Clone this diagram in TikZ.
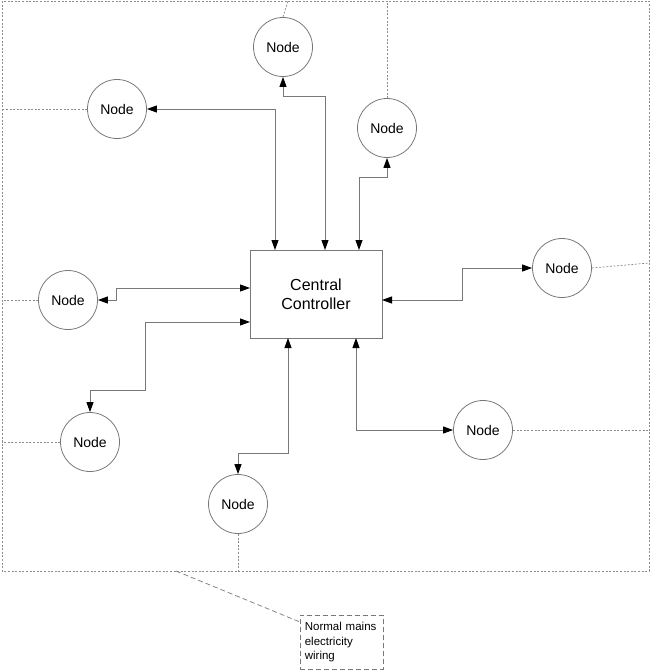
\documentclass[tikz,border=0pt]{standalone}
\usepackage{fontspec}
\setmainfont{Liberation Sans}
\usetikzlibrary{arrows.meta}
\definecolor{linegray}{RGB}{120,120,120}
\definecolor{wiregray}{RGB}{140,140,140}
\tikzset{
  devnode/.style={circle, draw=linegray, line width=0.8pt, minimum size=59pt, inner sep=0pt, font=\fontsize{14}{16}\selectfont},
  ctlbox/.style={rectangle, draw=linegray, line width=0.9pt, minimum width=132pt, minimum height=88pt, inner sep=0pt, align=center, font=\fontsize{16}{19}\selectfont},
  conn/.style={draw=linegray, line width=0.9pt, {Triangle[length=10pt,width=7pt,black]}-{Triangle[length=10pt,width=7pt,black]}},
  wire/.style={draw=wiregray, line width=0.7pt, dash pattern=on 2pt off 1.6pt},
  notewire/.style={draw=linegray, line width=0.7pt, dash pattern=on 5pt off 3pt},
  notebox/.style={rectangle, draw=linegray, line width=0.7pt, dash pattern=on 5pt off 3pt, text width=74pt, inner xsep=4.5pt, inner ysep=0pt, minimum height=54pt, align=left, font=\fontsize{11.5}{14.5}\selectfont}
}
\begin{document}
\begin{tikzpicture}[x=1pt,y=-1pt]
\useasboundingbox (0,0) rectangle (651,672);
% mains wiring loop
\draw[wire] (2,1) rectangle (649,571);
% central controller
\node[ctlbox] (ctl) at (316,294) {Central\\Controller};
% nodes
\node[devnode] (nT)  at (283,47)  {Node};
\node[devnode] (nRT) at (387,128) {Node};
\node[devnode] (nLT) at (117,109) {Node};
\node[devnode] (nLM) at (68,300)  {Node};
\node[devnode] (nLL) at (90,442)  {Node};
\node[devnode] (nB)  at (238,504) {Node};
\node[devnode] (nRL) at (483,430) {Node};
\node[devnode] (nRM) at (562,268) {Node};
% connection points on the controller
\coordinate (pT)  at (325,250);
\coordinate (pLT) at (275,250);
\coordinate (pRT) at (359,250);
\coordinate (pLM) at (250,288);
\coordinate (pLL) at (250,322);
\coordinate (pB)  at (288,338);
\coordinate (pRL) at (356,338);
\coordinate (pRM) at (382,300);
% connectors
\draw[conn] (pT) -- (325,96) -| (nT.south);
\draw[conn] (nLT.east) -| (pLT);
\draw[conn] (pRT) -- (359,177) -| (nRT.south);
\draw[conn] (pLM) -- (116,288) |- (nLM.east);
\draw[conn] (pLL) -- (145,322) -- (145,390) -| (nLL.north);
\draw[conn] (pB) -- (288,453) -| (nB.north);
\draw[conn] (pRL) |- (nRL.west);
\draw[conn] (pRM) -- (462,300) |- (nRM.west);
% wiring to the mains loop
\coordinate (wT)  at (288,1);
\coordinate (wRT) at (387,1);
\coordinate (wLT) at (2,109);
\coordinate (wLM) at (2,300);
\coordinate (wLL) at (2,442);
\coordinate (wB)  at (238,571);
\coordinate (wRL) at (649,430);
\coordinate (wRM) at (649,263);
\draw[wire] (nT.north) -- (wT);
\draw[wire] (nRT.north) -- (wRT);
\draw[wire] (nLT.west) -- (wLT);
\draw[wire] (nLM.west) -- (wLM);
\draw[wire] (nLL.west) -- (wLL);
\draw[wire] (nB.south) -- (wB);
\draw[wire] (nRL.east) -- (wRL);
\draw[wire] (nRM.east) -- (wRM);
% annotation
\node[notebox, anchor=north west] (note) at (300,615) {Normal mains\\electricity\\wiring};
\coordinate (wNote) at (176,571);
\draw[notewire] (wNote) -- (note.west |- 0,622);
\end{tikzpicture}
\end{document}
